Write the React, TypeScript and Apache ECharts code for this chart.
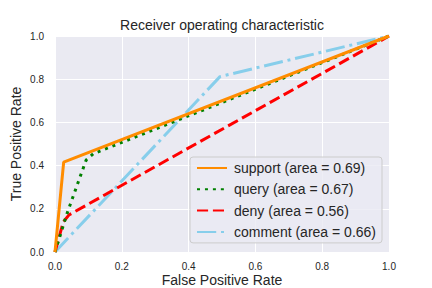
import React, { useEffect, useRef } from "react";
import * as echarts from "echarts";

const seriesNames = ["support", "query", "deny", "comment"];
const areas = [0.69, 0.67, 0.56, 0.66];
const supportPts: [number, number][] = [[0, 0], [0.026, 0.416], [1, 1]];
const queryPts: [number, number][] = [[0, 0], [0.036, 0.178], [0.093, 0.425], [0.115, 0.455], [1, 1]];
const denyPts: [number, number][] = [[0, 0], [0.025, 0.14], [0.042, 0.172], [1, 1]];
const commentPts: [number, number][] = [[0, 0], [0.494, 0.812], [1, 1]];
const colors = ["#ff8c00", "#008000", "#ff0000", "#87ceeb"];
const tickValues = [0, 0.2, 0.4, 0.6, 0.8, 1.0];
const xName = "False Positive Rate";
const yName = "True Positive Rate";

const FONT = "'Liberation Sans', Arial, sans-serif";

export default function App() {
  const ref = useRef<HTMLDivElement>(null);
  useEffect(() => {
    if (!ref.current) return;
    const chart = echarts.init(ref.current, undefined, { renderer: "svg" });
    const lw = 3;
    const dashes: any[] = [
      "solid",
      [lw * 1, lw * 1.65],
      [lw * 3.7, lw * 1.6],
      [lw * 6.4, lw * 1.6, lw * 1, lw * 1.6],
    ];
    const data = [supportPts, queryPts, denyPts, commentPts];
    const axisCommon = {
      type: "value" as const,
      min: tickValues[0],
      max: tickValues[tickValues.length - 1],
      interval: 0.2,
      axisLine: { show: false },
      axisTick: { show: false },
      splitLine: { show: true, lineStyle: { color: "#ffffff", width: 1 } },
    };
    chart.setOption({
      animation: false,
      backgroundColor: "#ffffff",
      textStyle: { fontFamily: FONT },
      title: {
        text: "Receiver operating characteristic",
        left: 222,
        top: 18,
        padding: 0,
        textAlign: "center",
        textStyle: { fontFamily: FONT, fontSize: 14, fontWeight: "normal", color: "#262626" },
      },
      grid: {
        left: 55,
        right: 43,
        top: 36,
        bottom: 36,
        containLabel: false,
        outerBoundsMode: "none",
        show: true,
        backgroundColor: "#eaeaf2",
        borderWidth: 0,
      },
      graphic: [
        {
          type: "text",
          x: 222,
          y: 280,
          style: {
            text: xName,
            font: `14px ${FONT}`,
            fill: "#262626",
            align: "center",
            verticalAlign: "middle",
          },
        },
        {
          type: "text",
          x: 16,
          y: 144,
          rotation: Math.PI / 2,
          style: {
            text: yName,
            font: `14px ${FONT}`,
            fill: "#262626",
            align: "center",
            verticalAlign: "middle",
          },
        },
      ],
      xAxis: {
        ...axisCommon,
        axisLabel: {
          fontFamily: FONT,
          fontSize: 10,
          color: "#262626",
          margin: 9,
          formatter: (v: number) => v.toFixed(1),
        },
      },
      yAxis: {
        ...axisCommon,
        axisLabel: {
          fontFamily: FONT,
          fontSize: 10,
          color: "#262626",
          margin: 11,
          formatter: (v: number) => v.toFixed(1),
        },
      },
      legend: {
        orient: "vertical",
        left: 190,
        top: 157,
        itemWidth: 30,
        itemHeight: 14,
        itemGap: 7.3,
        padding: [4, 6, 4, 6],
        backgroundColor: "rgba(234,234,242,0.8)",
        borderColor: "#cccccc",
        borderWidth: 1,
        borderRadius: 3,
        itemStyle: { opacity: 0 },
        textStyle: { fontFamily: FONT, fontSize: 14, color: "#262626", padding: [0, 0, 0, 2] },
        data: seriesNames.map((n, i) => `${n} (area = ${areas[i].toFixed(2)})`),
      },
      series: seriesNames.map((n, i) => ({
        name: `${n} (area = ${areas[i].toFixed(2)})`,
        type: "line",
        data: data[i],
        symbol: "none",
        color: colors[i],
        lineStyle: { color: colors[i], width: lw, type: dashes[i], cap: "butt" },
        z: 10 - i,
      })),
    });
    return () => chart.dispose();
  }, []);
  return <div ref={ref} style={{ width: 432, height: 288, position: "absolute", left: 0, top: 0 }} />;
}
